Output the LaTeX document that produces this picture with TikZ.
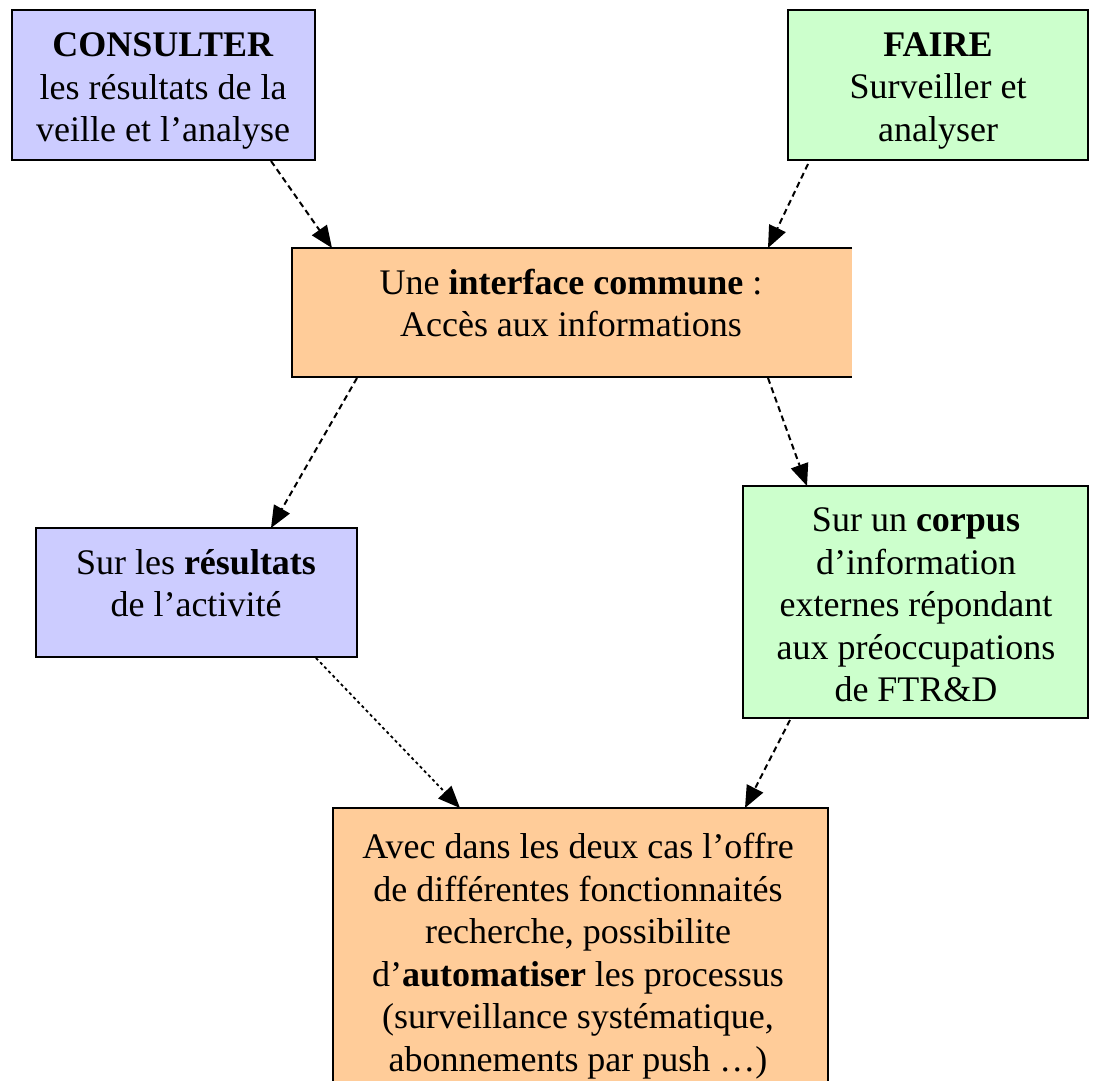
\documentclass[tikz,border=0pt]{standalone}
\usepackage{fontspec}
\setmainfont{Liberation Serif}
\usetikzlibrary{arrows.meta,calc}
\definecolor{lav}{HTML}{CCCCFF}
\definecolor{mint}{HTML}{CCFFCC}
\definecolor{peach}{HTML}{FFCC99}

\begin{document}
\begin{tikzpicture}[x=1pt,y=-1pt,
  box/.style={draw=black, line width=2.8pt, inner sep=0pt, outer sep=0pt, anchor=north west},
  openbox/.style={inner sep=0pt, outer sep=0pt, anchor=north west},
  side/.style={line width=2.8pt},
  txt/.style={align=center, inner sep=0pt, font=\fontsize{36}{42.5}\selectfont},
  edge/.style={line width=2pt, dash pattern=on 6pt off 4pt, -{Triangle[length=22pt,width=18pt]}},
  fine/.style={line width=1.8pt, dash pattern=on 3pt off 3pt, -{Triangle[length=22pt,width=18pt]}}]
\useasboundingbox (0,0) rectangle (1093,1081);

% boxes
\node[box, fill=lav, minimum width=303, minimum height=150] (consult) at (12,10) {};
\node[box, fill=mint, minimum width=300, minimum height=150] (faire) at (788,10) {};
\node[openbox, fill=peach, minimum width=560, minimum height=129] (iface) at (292,248) {};
\draw[side] (iface.north east) -- (iface.north west) -- (iface.south west) -- (iface.south east);
\node[box, fill=lav, minimum width=321, minimum height=129] (result) at (36,528) {};
\node[box, fill=mint, minimum width=345, minimum height=232] (corpus) at (743,486) {};
\node[openbox, fill=peach, minimum width=495, minimum height=273] (offre) at (333,808) {};
\draw[side] (offre.south west) -- (offre.north west) -- (offre.north east) -- (offre.south east);

% texts
\node[txt] (consult-t) at (163,91) {\textbf{CONSULTER}\\les résultats de la\\veille et l'analyse};
\node[txt] (faire-t) at (938,91) {\textbf{FAIRE}\\Surveiller et\\analyser};
\node[txt] (iface-t) at (571,303) {Une \textbf{interface commune} :\\Accès aux informations};
\node[txt] (result-t) at (196,583) {Sur les \textbf{résultats}\\de l'activité};
\node[txt] (corpus-t) at (916,605) {Sur un \textbf{corpus}\\d'information\\externes répondant\\aux préoccupations\\de FTR\&D};
\node[txt] (offre-t) at (578,956) {Avec dans les deux cas l'offre\\de différentes fonctionnaités\\recherche, possibilite\\d'\textbf{automatiser} les processus\\(surveillance systématique,\\abonnements par push~…)};

% connectors
\draw[edge] ($(consult.south west)+(259,1)$) -- ($(iface.north west)+(40,0)$);
\draw[edge] ($(faire.south west)+(20,4)$) -- ($(iface.north west)+(476,0)$);
\draw[edge] ($(iface.south west)+(65,1)$) -- ($(result.north west)+(235,0)$);
\draw[edge] ($(iface.south west)+(476,1)$) -- ($(corpus.north west)+(64,0)$);
\draw[fine] ($(result.south west)+(280,1)$) -- ($(offre.north west)+(127,0)$);
\draw[edge] ($(corpus.south west)+(47,2)$) -- ($(offre.north west)+(412,0)$);
\end{tikzpicture}
\end{document}
